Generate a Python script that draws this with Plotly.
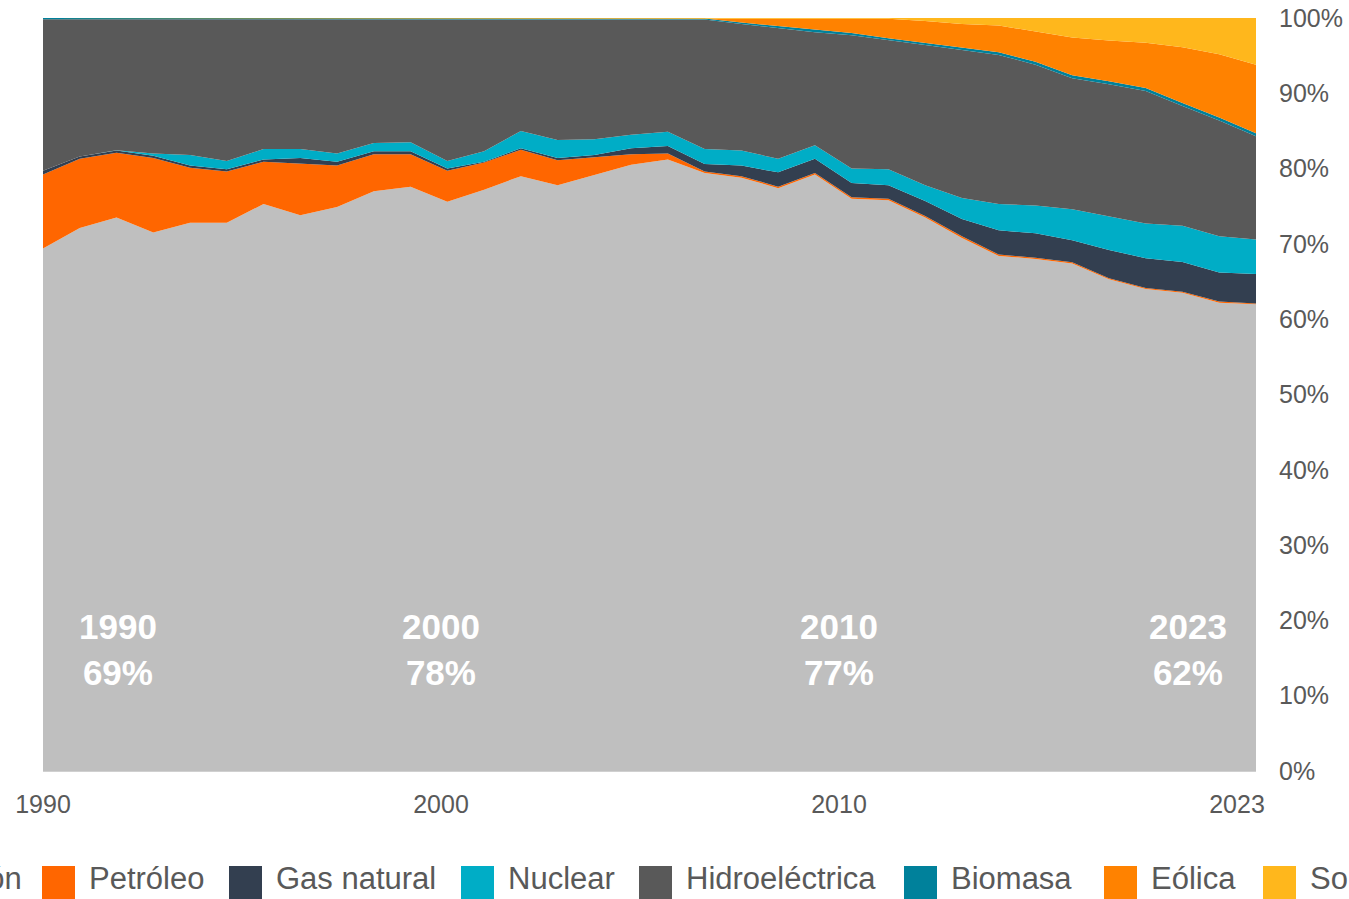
import plotly.graph_objects as go

# ---------------- data (share of electricity generation, %) ----------------
years = [1990, 1991, 1992, 1993, 1994, 1995, 1996, 1997, 1998, 1999,
         2000, 2001, 2002, 2003, 2004, 2005, 2006, 2007, 2008, 2009,
         2010, 2011, 2012, 2013, 2014, 2015, 2016, 2017, 2018, 2019,
         2020, 2021, 2022, 2023]

carbon = [69.4, 72.1, 73.5, 71.5, 72.8, 72.8, 75.3, 73.8, 74.9, 77.0,
          77.6, 75.6, 77.2, 79.0, 77.8, 79.1, 80.5, 81.2, 79.4, 78.8,
          77.4, 79.2, 76.0, 75.8, 73.5, 70.8, 68.4, 68.0, 67.4, 65.3,
          64.0, 63.5, 62.2, 62.0]
petroleo = [9.8, 9.2, 8.6, 9.9, 7.3, 6.8, 5.6, 6.9, 5.5, 4.9,
            4.3, 4.1, 3.6, 3.5, 3.3, 2.4, 1.4, 0.8, 0.2, 0.2,
            0.2, 0.2, 0.2, 0.2, 0.2, 0.2, 0.2, 0.15, 0.15, 0.15,
            0.15, 0.15, 0.15, 0.1]
gas = [0.5, 0.3, 0.3, 0.3, 0.3, 0.3, 0.3, 0.7, 0.5, 0.4,
       0.4, 0.3, 0.1, 0.2, 0.3, 0.3, 0.8, 1.0, 1.0, 1.4,
       1.9, 1.9, 1.9, 1.8, 2.0, 2.3, 3.2, 3.25, 2.95, 3.75,
       3.95, 3.95, 3.85, 3.9]
nuclear = [0.0, 0.0, 0.05, 0.3, 1.4, 1.1, 1.4, 1.2, 1.1, 1.1,
           1.2, 1.0, 1.4, 2.3, 2.4, 2.1, 1.8, 1.9, 2.0, 2.0,
           1.8, 1.8, 1.9, 2.1, 2.1, 2.8, 3.5, 3.7, 4.1, 4.5,
           4.6, 4.8, 4.8, 4.6]
hidro = [20.15, 18.25, 17.4, 17.85, 18.05, 18.85, 17.25, 17.25, 17.85, 16.45,
         16.35, 18.85, 17.55, 14.85, 16.05, 15.95, 15.35, 14.95, 17.2, 16.8,
         17.3, 15.0, 17.7, 17.1, 18.6, 19.65, 19.8, 18.7, 17.4, 17.5,
         17.6, 15.9, 15.4, 13.7]
biomasa = [0.15, 0.15, 0.15, 0.15, 0.15, 0.15, 0.15, 0.15, 0.15, 0.15,
           0.15, 0.15, 0.15, 0.15, 0.15, 0.15, 0.15, 0.15, 0.15, 0.2,
           0.3, 0.3, 0.3, 0.3, 0.3, 0.35, 0.35, 0.4, 0.4, 0.4,
           0.4, 0.4, 0.4, 0.4]
eolica = [0.0, 0.0, 0.0, 0.0, 0.0, 0.0, 0.0, 0.0, 0.0, 0.0,
          0.0, 0.0, 0.0, 0.0, 0.0, 0.0, 0.0, 0.0, 0.05, 0.6,
          1.1, 1.6, 2.0, 2.6, 2.9, 3.1, 3.55, 4.0, 5.0, 5.4,
          6.0, 7.4, 8.4, 9.1]
solar = [0.0, 0.0, 0.0, 0.0, 0.0, 0.0, 0.0, 0.0, 0.0, 0.0,
         0.0, 0.0, 0.0, 0.0, 0.0, 0.0, 0.0, 0.0, 0.0, 0.0,
         0.0, 0.0, 0.0, 0.1, 0.4, 0.8, 1.0, 1.8, 2.6, 3.0,
         3.3, 3.9, 4.8, 6.2]

series_names = ["Carbón", "Petróleo", "Gas natural", "Nuclear",
                "Hidroeléctrica", "Biomasa", "Eólica", "Solar"]
series_values = [carbon, petroleo, gas, nuclear, hidro, biomasa, eolica, solar]
x_tick_labels = ["1990", "2000", "2010", "2023"]
y_tick_values = [0, 10, 20, 30, 40, 50, 60, 70, 80, 90, 100]
highlight_years = [1990, 2000, 2010, 2023]

# ---------------- styles ----------------
colors = ["#BFBFBF", "#FF6600", "#333F50", "#00ADC6",
          "#595959", "#00819B", "#FF8200", "#FFB71C"]
FONT = "Arial, 'Liberation Sans', sans-serif"
TEXT_COLOR = "#595959"

W, H = 1349, 899
ML, MR, MT, MB = 43, 93, 18, 128
PW, PH = W - ML - MR, H - MT - MB


def px_x(px):
    return (px - ML) / PW


def px_y(py):
    return (H - MB - py) / PH


fig = go.Figure()
for i, (name, vals, col) in enumerate(zip(series_names, series_values, colors)):
    fig.add_trace(go.Scatter(
        x=years, y=vals, name=name, mode="lines",
        line=dict(width=0, color=col), fillcolor=col,
        stackgroup="one", groupnorm="percent" if i == 0 else None,
        showlegend=False, hoverinfo="x+y+name",
    ))

# x tick positions (labels spread evenly along the axis as in the reference)
step = (years[-1] - years[0]) * (398 / PW)
tickvals = [years[0] + k * step for k in range(len(x_tick_labels))]

fig.update_layout(
    width=W, height=H,
    margin=dict(l=ML, r=MR, t=MT, b=MB, autoexpand=False),
    paper_bgcolor="white", plot_bgcolor="white",
    font=dict(family=FONT, color=TEXT_COLOR),
)
fig.update_xaxes(
    range=[years[0], years[-1]], tickmode="array", tickvals=tickvals,
    ticktext=x_tick_labels, automargin=False,
    showgrid=False, zeroline=False, showline=True, linecolor="#D0D0D0", linewidth=1,
    ticks="", tickfont=dict(size=25, color=TEXT_COLOR, family=FONT),
    ticklabelstandoff=11,
)
fig.update_yaxes(
    range=[0, 100], side="right", tickmode="array", tickvals=y_tick_values,
    ticktext=[f"{v}%" for v in y_tick_values], automargin=False,
    showgrid=False, zeroline=False, showline=False, ticks="",
    tickfont=dict(size=25, color=TEXT_COLOR, family=FONT),
    ticklabelstandoff=22,
)

# big white labels inside the coal area
label_px = [118, 441, 839, 1188]
annotations = []
for yr, px in zip(highlight_years, label_px):
    share = carbon[years.index(yr)]
    annotations.append(dict(
        x=px_x(px), y=px_y(649), xref="paper", yref="paper",
        text=f"<b>{yr}<br>{round(share):d}%</b>", showarrow=False,
        xanchor="center", yanchor="middle", align="center",
        font=dict(size=35, color="white", family=FONT),
    ))

# manual legend (wider than the page, clipped at both sides like the reference)
swatch_left = [-127, 42, 229, 461, 639, 904, 1104, 1263]
shapes = []
for name, col, sx in zip(series_names, colors, swatch_left):
    shapes.append(dict(
        type="rect", xref="paper", yref="paper",
        x0=px_x(sx), x1=px_x(sx + 33), y0=px_y(899), y1=px_y(866),
        fillcolor=col, line=dict(width=0), layer="above",
    ))
    annotations.append(dict(
        x=px_x(sx + 45), y=px_y(878), xref="paper", yref="paper",
        text=name, showarrow=False, xanchor="left", yanchor="middle",
        font=dict(size=31, color=TEXT_COLOR, family=FONT),
    ))

fig.update_layout(annotations=annotations, shapes=shapes)

fig.write_html(
    "out.html",
    config={"displayModeBar": False},
    post_script="document.body.style.margin='0';document.body.style.overflow='hidden';",
)
